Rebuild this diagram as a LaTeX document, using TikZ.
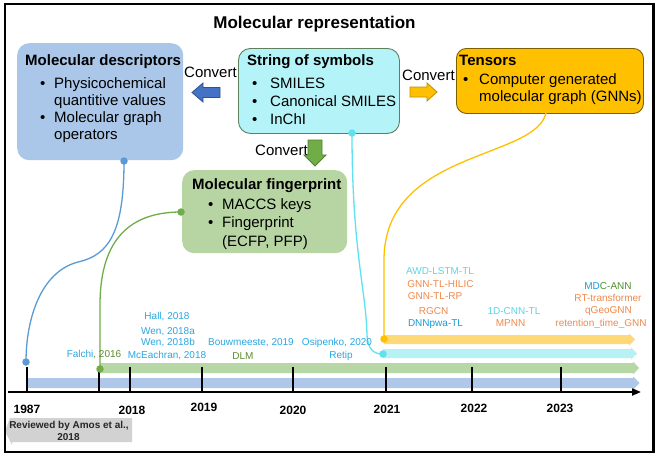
\documentclass[tikz,border=0pt]{standalone}
\usepackage{fontspec}
\setmainfont{Liberation Sans}
\usetikzlibrary{arrows.meta}
\definecolor{descfill}{HTML}{AAC7E9}
\definecolor{fpfill}{HTML}{B7D5A2}
\definecolor{strfill}{HTML}{B4F3F7}
\definecolor{strline}{HTML}{5F7F5F}
\definecolor{tensfill}{HTML}{FFC000}
\definecolor{tensline}{HTML}{7F6000}
\definecolor{barrow}{HTML}{4472C4}
\definecolor{barrowline}{HTML}{2F528F}
\definecolor{oarrowline}{HTML}{BF9000}
\definecolor{garrow}{HTML}{70AD47}
\definecolor{garrowline}{HTML}{507E32}
\definecolor{cblue}{HTML}{5B9BD5}
\definecolor{cgreenl}{HTML}{70AD47}
\definecolor{ccyan}{HTML}{5EE2F0}
\definecolor{corange}{HTML}{FFC000}
\definecolor{barblue}{HTML}{AFC8E9}
\definecolor{bargreen}{HTML}{B8D7A6}
\definecolor{barcyan}{HTML}{B5F1F5}
\definecolor{baryellow}{HTML}{FFD877}
\definecolor{skyb}{HTML}{2AA7E0}
\definecolor{olivet}{HTML}{5E8C31}
\definecolor{orng}{HTML}{EE8A4C}
\definecolor{lcyan}{HTML}{5BD6E6}
\definecolor{dblue}{HTML}{1A9BD7}
\definecolor{cgreen}{HTML}{4F8F2F}
\definecolor{grayarrow}{HTML}{D2D2D2}
\newcommand\bul[1]{\makebox[#1pt][l]{•}}
\begin{document}
\begin{tikzpicture}[x=1pt,y=-1pt,
  boxshape/.style={rounded corners=12pt, inner sep=0pt, anchor=north west},
  bt/.style={anchor=base west, inner sep=0pt, font=\fontsize{15}{18}\selectfont},
  bth/.style={anchor=base west, inner sep=0pt, font=\bfseries\fontsize{15}{18}\selectfont},
  sm/.style={anchor=base, inner sep=0pt, font=\fontsize{10}{12}\selectfont},
  yr/.style={anchor=base, inner sep=0pt, font=\bfseries\fontsize{12}{14}\selectfont},
  dotn/.style={circle, inner sep=0pt, minimum size=7.5pt},
  curve/.style={line width=1.3pt},
  tick/.style={line width=2pt},
]
\useasboundingbox (0,0) rectangle (658,458);
\fill[white] (0,0) rectangle (658,458);

% title
\node[anchor=base, inner sep=0pt, font=\bfseries\fontsize{17}{20}\selectfont] (title) at (314.5,28) {Molecular representation};

% boxes
\node[boxshape, fill=descfill, minimum width=166pt, minimum height=117pt] (desc) at (17,43) {};
\node[boxshape, fill=strfill, draw=strline, line width=0.9pt, minimum width=161pt, minimum height=85pt] (str) at (238,48) {};
\node[boxshape, rounded corners=10pt, fill=tensfill, draw=tensline, line width=0.9pt, minimum width=187pt, minimum height=65pt] (tens) at (456,48) {};
\node[boxshape, fill=fpfill, minimum width=165pt, minimum height=83pt] (fp) at (182,170) {};

% descriptor texts
\node[bth] (dt) at (25,65) {Molecular descriptors};
\node[bt] (d1) at (40,88) {\bul{14}Physicochemical};
\node[bt] (d2) at (54,105.5) {quantitive values};
\node[bt] (d3) at (40,122.5) {\bul{14}Molecular graph};
\node[bt] (d4) at (54,139.5) {operators};

% string texts
\node[bth] (st) at (247,65) {String of symbols};
\node[bt] (s1) at (252,88) {\bul{18}SMILES};
\node[bt] (s2) at (252,106) {\bul{18}Canonical SMILES};
\node[bt] (s3) at (252,124) {\bul{18}InChI};

% tensor texts
\node[bth] (tt) at (459,65) {Tensors};
\node[bt] (t1) at (463,84) {\bul{16}Computer generated};
\node[bt] (t2) at (479,101) {molecular graph (GNNs)};

% fingerprint texts
\node[bth] (ft) at (192,189) {Molecular fingerprint};
\node[bt] (f1) at (208,209) {\bul{14}MACCS keys};
\node[bt] (f2) at (208,227) {\bul{14}Fingerprint};
\node[bt] (f3) at (222,246) {(ECFP, PFP)};

% convert arrows
\node[bt] (cv1) at (184,77) {Convert};
\node[bt] (cv2) at (402,80) {Convert};
\node[bt] (cv3) at (255,155) {Convert};
\draw[fill=barrow, draw=barrowline, line width=0.8pt] (192,92.5) -- (203,83) -- (203,87.5) -- (220,87.5) -- (220,97.5) -- (203,97.5) -- (203,102) -- cycle;
\draw[fill=tensfill, draw=oarrowline, line width=0.8pt] (410,87) -- (427,87) -- (427,83) -- (437,92) -- (427,101) -- (427,97) -- (410,97) -- cycle;
\draw[fill=garrow, draw=garrowline, line width=0.8pt] (308,140) -- (322,140) -- (322,155) -- (326,155) -- (315,166) -- (304,155) -- (308,155) -- cycle;

% bars
\fill[barblue] (28,378) -- (633,378) -- (633,376.5) -- (639.5,383) -- (633,389.5) -- (633,388) -- (28,388) -- cycle;
\fill[bargreen] (100,363) -- (633,363) -- (633,361.5) -- (639,368) -- (633,374.5) -- (633,373) -- (100,373) -- cycle;
\fill[barcyan] (383,349) -- (631,349) -- (631,347.5) -- (637,353.5) -- (631,359.5) -- (631,358) -- (383,358) -- cycle;
\fill[baryellow] (384,335) -- (629,335) -- (629,333.5) -- (635,339.5) -- (629,345.5) -- (629,344) -- (384,344) -- cycle;

% axis and ticks
\draw[line width=2pt, -{Triangle[length=9pt,width=7pt]}] (8,392) -- (641,392);
\foreach \tx in {27,99,130,202,293,386,472,561}
  \draw[tick] (\tx,367) -- (\tx,392);

% years
\node[yr] (y1987) at (27,413) {1987};
\node[yr] (y2018) at (132,414) {2018};
\node[yr] (y2019) at (204,411) {2019};
\node[yr] (y2020) at (293,414) {2020};
\node[yr] (y2021) at (387,413) {2021};
\node[yr] (y2022) at (474,412) {2022};
\node[yr] (y2023) at (560,412) {2023};

% curves and dots
\node[dotn, fill=cblue] (db1) at (124,161) {};
\node[dotn, fill=cblue] (db2) at (26,362) {};
\node[dotn, fill=cgreenl] (dg1) at (181,212) {};
\node[dotn, fill=cgreenl] (dg2) at (100,369) {};
\node[dotn, fill=ccyan] (dc1) at (352,133) {};
\node[dotn, fill=ccyan] (dc2) at (383,354) {};
\node[dotn, fill=corange] (do2) at (384,339) {};
\coordinate (do1) at (546,113);

\draw[curve, cblue] (db1.center) .. controls (124,230) and (110,255) .. (78,262) .. controls (40,272) and (26,320) .. (db2.center);
\draw[curve, cgreenl] (dg1.center) .. controls (125,212) and (100,245) .. (100,305) -- (dg2.center);
\draw[curve, ccyan] (dc1.center) .. controls (352,250) and (366,290) .. (367,335) .. controls (368,350) and (374,354) .. (dc2.center);
\draw[curve, corange] (do1) .. controls (535,160) and (384,150) .. (384,260) -- (do2.center);

% small labels
\node[sm] (falchi) at (94,357) {\textcolor{skyb}{Falchi}\textcolor{olivet}{, 2016}};
\node[sm, text=skyb] (hall) at (167,319) {Hall, 2018};
\node[sm, text=skyb] (wena) at (168,334) {Wen, 2018a};
\node[sm, text=skyb] (wenb) at (168,345) {Wen, 2018b};
\node[sm, text=skyb] (mce) at (167,358) {McEachran, 2018};
\node[sm, text=skyb] (bouw) at (251,345) {Bouwmeeste, 2019};
\node[sm, text=olivet] (dlm) at (243,359) {DLM};
\node[sm, text=skyb] (osip) at (337,345) {Osipenko, 2020};
\node[sm, text=skyb] (retip) at (341,358) {Retip};

\node[sm, text=lcyan] (awd) at (440,274) {AWD-LSTM-TL};
\node[sm, text=orng] (hilic) at (440.5,287) {GNN-TL-HILIC};
\node[sm, text=orng] (rp) at (435,299) {GNN-TL-RP};
\node[sm, text=orng] (rgcn) at (433.5,314) {RGCN};
\node[sm, text=dblue] (dnn) at (435.5,326) {DNNpwa-TL};
\node[sm, text=lcyan] (cnn) at (514,314) {1D-CNN-TL};
\node[sm, text=orng] (mpnn) at (510.5,326) {MPNN};
\node[sm] (mdc) at (608,289) {\textcolor{dblue}{MD}\textcolor{cgreen}{C-ANN}};
\node[sm, text=orng] (rtt) at (608,301) {RT-transformer};
\node[sm, text=orng] (qgeo) at (608.5,313) {qGeoGNN};
\node[sm, text=orng] (rtg) at (601,326) {retention\_time\_GNN};

% reviewed arrow
\fill[grayarrow] (132,418) -- (10,418) -- (5,431) -- (12,445) -- (12,442) -- (132,442) -- cycle;
\node[anchor=base, inner sep=0pt, font=\bfseries\fontsize{10}{12}\selectfont, text=black!85] (rev1) at (69,428) {Reviewed by Amos et al.,};
\node[anchor=base, inner sep=0pt, font=\bfseries\fontsize{10}{12}\selectfont, text=black!85] (rev2) at (68.5,440) {2018};

% frame
\draw[line width=2.5pt] (5,4) rectangle (653.5,452);
\end{tikzpicture}
\end{document}
